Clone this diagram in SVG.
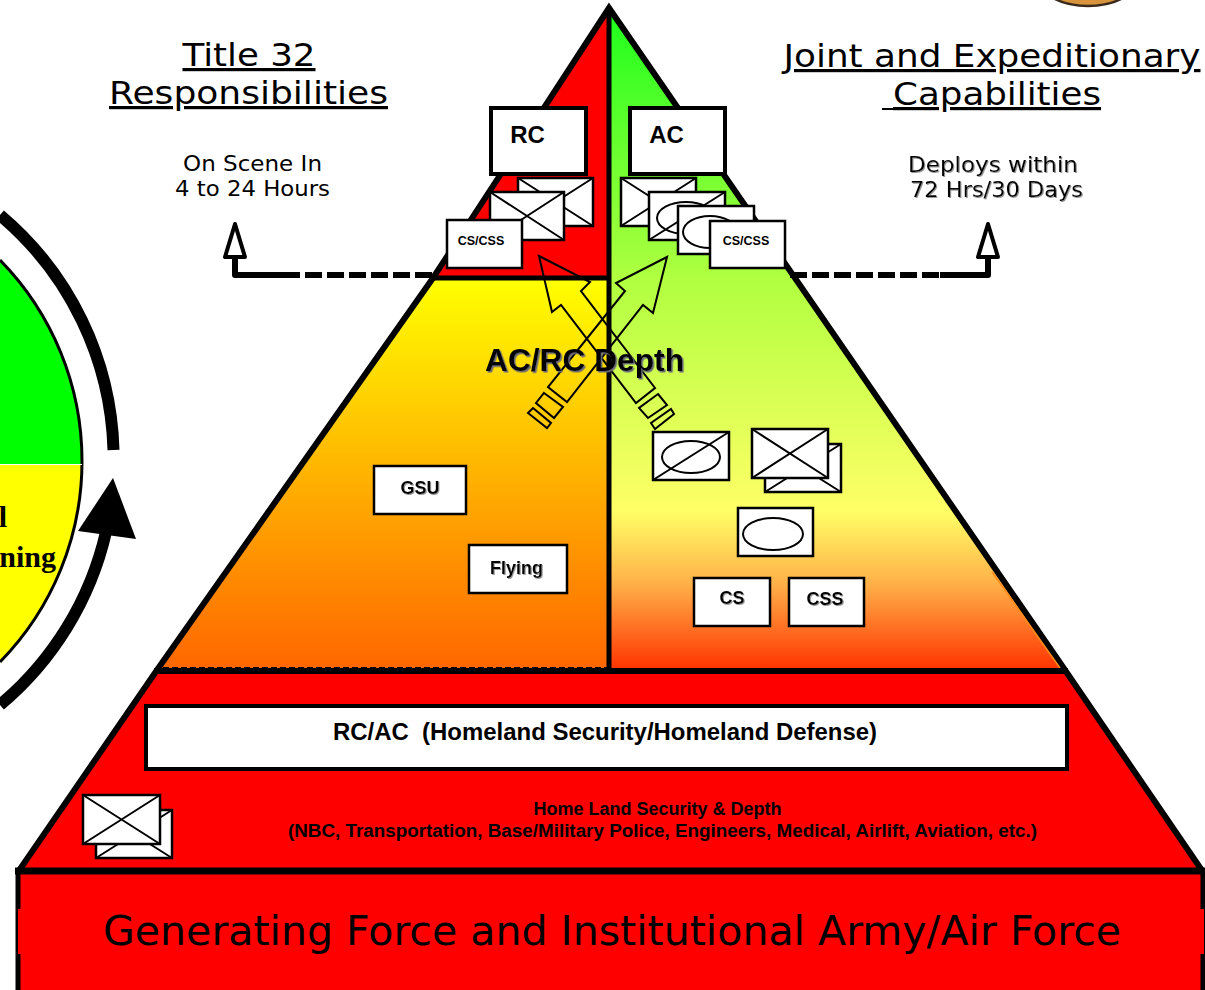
<svg xmlns="http://www.w3.org/2000/svg" width="1205" height="990" viewBox="0 0 1205 990">
<style>
.b{font-family:"Liberation Sans",Arial,sans-serif;font-weight:700;fill:#000;text-anchor:middle}
.w{font-family:"DejaVu Sans",Verdana,sans-serif;fill:#000;text-anchor:middle}
.u{text-decoration:underline}
.box{fill:#fff;stroke:#000;stroke-width:2.5}
.thin{fill:none;stroke:#000;stroke-width:2}
.out{fill:none;stroke:#000;stroke-width:6;stroke-linejoin:miter}
.hollow{fill:#fff;stroke:#000;stroke-width:4;stroke-linejoin:round}
.arrow{fill:none;stroke:#000;stroke-width:2}
.conn{fill:none;stroke:#000;stroke-width:6}
</style>
<defs>
<linearGradient id="gR" gradientUnits="userSpaceOnUse" x1="0" y1="8" x2="0" y2="670">
<stop offset="0" stop-color="#1cff1c"/><stop offset="0.41" stop-color="#b0ff40"/><stop offset="0.76" stop-color="#ffff66"/><stop offset="0.87" stop-color="#ffb048"/><stop offset="1" stop-color="#ff3300"/>
</linearGradient>
<linearGradient id="gL" gradientUnits="userSpaceOnUse" x1="0" y1="280" x2="0" y2="670">
<stop offset="0" stop-color="#ffff00"/><stop offset="1" stop-color="#ff6600"/>
</linearGradient>
<filter id="sh" x="-5%" y="-20%" width="110%" height="140%"><feDropShadow dx="1.5" dy="1.5" stdDeviation="0.6" flood-color="#667"/></filter>
<filter id="sh2" x="-5%" y="-20%" width="110%" height="140%"><feDropShadow dx="1" dy="1" stdDeviation="0.5" flood-color="#999"/></filter>
</defs>

<g id="seal"><ellipse cx="1088" cy="-22" rx="50" ry="28" fill="#d9933c" stroke="#3a2a1c" stroke-width="2.5"/></g>

<g id="cycle">
<path d="M-205 461m287 0A287 287 0 0 1 -205 748V174A287 287 0 0 1 82 461Z" fill="none"/>
<path d="M0 260A287 287 0 0 1 82 465H0Z" fill="#00ff00"/>
<path d="M0 465H82A287 287 0 0 1 0 662Z" fill="#ffff00"/>
<path d="M0 260A287 287 0 0 1 82 461A287 287 0 0 1 0 662" fill="none" stroke="#000" stroke-width="3"/>
<line x1="0" y1="464.500" x2="82" y2="464.500" stroke="#fff" stroke-width="1"/>
<path d="M0 215A319 319 0 0 1 113.500 450" fill="none" stroke="#000" stroke-width="12"/>
<path d="M0 705A319 319 0 0 0 106 532" fill="none" stroke="#000" stroke-width="12"/>
<polygon points="113,478 136,539 78,531" fill="#000"/>
<text x="7" y="527" font-family="Liberation Serif,serif" font-weight="700" font-size="30" text-anchor="end">l</text>
<text x="56" y="567" font-family="Liberation Serif,serif" font-weight="700" font-size="30" text-anchor="end">ning</text>
</g>

<g id="pyramid">
<polygon points="609,8 434,278 609,278" fill="#ff0000"/>
<polygon points="434,278 609,278 609,670 157,670" fill="url(#gL)"/>
<polygon points="609,8 1065,670 609,670" fill="url(#gR)"/>
<polygon points="157,670 1065,670 1203,870 18,870" fill="#ff0000"/>
<rect x="18" y="870" width="1186" height="120" fill="#ff0000"/>
<polyline class="out" points="18,872 157,670 433,278 609,8 1065,670 1203,872"/>
<line x1="992" y1="572" x2="1060" y2="668" stroke="#ff8c1a" stroke-width="1.500"/>
<line x1="609" y1="8" x2="609" y2="670" stroke="#000" stroke-width="5"/>
<line x1="433" y1="278" x2="609" y2="278" stroke="#000" stroke-width="5"/>
<line x1="154" y1="671" x2="1068" y2="671" stroke="#000" stroke-width="6"/>
<line x1="163" y1="667.500" x2="609" y2="667.500" stroke="#000" stroke-width="1" stroke-dasharray="6 3"/>
<line x1="15" y1="871" x2="1205" y2="871" stroke="#000" stroke-width="7"/>
<line x1="18" y1="871" x2="18" y2="990" stroke="#000" stroke-width="5"/>
<line x1="1203" y1="871" x2="1203" y2="990" stroke="#000" stroke-width="5"/>
<rect x="18" y="909" width="1186" height="45" fill="#ff0000"/>
</g>

<g id="titles">
<text class="w u" x="249" y="66" font-size="32" textLength="133" lengthAdjust="spacingAndGlyphs">Title 32</text>
<text class="w u" x="248.500" y="104" font-size="32" textLength="279" lengthAdjust="spacingAndGlyphs">Responsibilities</text>
<text class="w u" x="992" y="67" font-size="32" textLength="417" lengthAdjust="spacingAndGlyphs">Joint and Expeditionary</text>
<text class="w u" x="997" y="105" font-size="32" textLength="208" lengthAdjust="spacingAndGlyphs">Capabilities</text>
<line x1="882" y1="109" x2="893" y2="109" stroke="#000" stroke-width="2"/>
<text class="w" x="252.500" y="171" font-size="21" textLength="139" lengthAdjust="spacingAndGlyphs">On Scene In</text>
<text class="w" x="252.500" y="196" font-size="21" textLength="155" lengthAdjust="spacingAndGlyphs">4 to 24 Hours</text>
<text class="w" x="993" y="172" font-size="21" textLength="170" lengthAdjust="spacingAndGlyphs" filter="url(#sh2)">Deploys within</text>
<text class="w" x="996.500" y="197" font-size="21" textLength="173" lengthAdjust="spacingAndGlyphs" filter="url(#sh2)">72 Hrs/30 Days</text>
</g>

<g id="connectors">
<path class="conn" d="M432 275H285" stroke-dasharray="17 5"/>
<path class="conn" d="M285 275H235V256" stroke-linejoin="round"/>
<polygon class="hollow" points="235,224 225,257 245,257"/>
<path class="conn" d="M790 275H940" stroke-dasharray="17 5"/>
<path class="conn" d="M940 275H988V256" stroke-linejoin="round"/>
<polygon class="hollow" points="988,224 978,257 998,257"/>
</g>

<g id="rc-back"><rect class="box" x="518" y="178" width="75" height="48"/><path class="thin" d="M518 178L593 226M518 226L593 178"/></g>
<g id="rc-front"><rect class="box" x="490" y="192" width="74" height="48"/><path class="thin" d="M490 192L564 240M490 240L564 192"/></g>
<g id="rc"><rect x="491" y="108" width="95" height="66" fill="#fff" stroke="#000" stroke-width="4"/><text class="b" x="527.500" y="143" font-size="24">RC</text></g>
<g id="rc-cscss"><rect class="box" x="447" y="220" width="75" height="48"/><text class="b" x="481" y="245" font-size="12.500">CS/CSS</text></g>

<g id="ac-1"><rect class="box" x="621" y="178" width="75" height="48"/><path class="thin" d="M621 178L696 226M621 226L696 178"/></g>
<g id="ac-2"><rect class="box" x="649" y="192" width="76" height="48"/><ellipse class="thin" cx="686" cy="218" rx="29" ry="16"/><path class="thin" d="M649 240L725 192"/></g>
<g id="ac-3"><rect class="box" x="678" y="206" width="76" height="48"/><ellipse class="thin" cx="710" cy="232" rx="27" ry="16"/></g>
<g id="ac"><rect x="630" y="108" width="95" height="66" fill="#fff" stroke="#000" stroke-width="4"/><text class="b" x="666.500" y="143" font-size="24">AC</text></g>
<g id="ac-cscss"><rect class="box" x="710" y="221" width="75" height="47"/><text class="b" x="746" y="245" font-size="12.500">CS/CSS</text></g>

<g id="depth-arrows">
<polygon class="arrow" points="539,256 590,282 581,291 655,388 636,403 561,305 552,312"/>
<polygon class="arrow" points="658,394 667,405 648,418 639,408"/>
<polygon class="arrow" points="671,409 674,414 655,429 651,423"/>
<polygon class="arrow" points="667,257 653,313 643,305 567,402 548,387 625,291 616,283"/>
<polygon class="arrow" points="544,393 563,407 554,418 536,403"/>
<polygon class="arrow" points="533,408 551,423 547,428 528,413"/>
</g>
<text id="depth-label" class="b" x="584.500" y="371" font-size="32" textLength="199" lengthAdjust="spacingAndGlyphs" filter="url(#sh)">AC/RC Depth</text>

<g id="gsu"><rect class="box" x="374" y="466" width="92" height="48"/><text class="b" x="420" y="494" font-size="18" filter="url(#sh2)">GSU</text></g>
<g id="flying"><rect class="box" x="469" y="545" width="98" height="48"/><text class="b" x="516.500" y="574" font-size="18" filter="url(#sh2)">Flying</text></g>
<g id="unit-slash"><rect class="box" x="653" y="432" width="76" height="48"/><ellipse class="thin" cx="691" cy="457" rx="29" ry="16"/><path class="thin" d="M653 480L729 432"/></g>
<g id="unit-x-back"><rect class="box" x="765" y="444" width="76" height="48"/><path class="thin" d="M765 492L841 444M765 444L841 492"/></g>
<g id="unit-x"><rect class="box" x="752" y="429" width="76" height="49"/><path class="thin" d="M752 429L828 478M752 478L828 429"/></g>
<g id="unit-oval"><rect class="box" x="738" y="508" width="75" height="48"/><ellipse class="thin" cx="773" cy="534" rx="30" ry="16"/></g>
<g id="cs"><rect class="box" x="694" y="578" width="76" height="48"/><text class="b" x="732" y="604" font-size="18" filter="url(#sh2)">CS</text></g>
<g id="css"><rect class="box" x="789" y="578" width="75" height="48"/><text class="b" x="825" y="605" font-size="18" filter="url(#sh2)">CSS</text></g>

<g id="homeland"><rect x="146" y="706" width="921" height="63" fill="#fff" stroke="#000" stroke-width="4"/><text class="b" x="605" y="740" font-size="24" textLength="544" lengthAdjust="spacingAndGlyphs" xml:space="preserve">RC/AC  (Homeland Security/Homeland Defense)</text></g>
<g id="homeland-depth">
<text class="b" x="657.500" y="815" font-size="18">Home Land Security &amp; Depth</text>
<text class="b" x="662.500" y="837" font-size="18" textLength="749" lengthAdjust="spacingAndGlyphs">(NBC, Transportation, Base/Military Police, Engineers, Medical, Airlift, Aviation, etc.)</text>
</g>
<g id="base-x-back"><rect class="box" x="96" y="810" width="76" height="48"/><path class="thin" d="M96 858L172 810M96 810L172 858"/></g>
<g id="base-x"><rect class="box" x="83" y="795" width="77" height="49"/><path class="thin" d="M83 795L160 844M83 844L160 795"/></g>
<g id="generating"><text class="w" x="612" y="945" font-size="41" textLength="1018" lengthAdjust="spacingAndGlyphs">Generating Force and Institutional Army/Air Force</text></g>
</svg>
